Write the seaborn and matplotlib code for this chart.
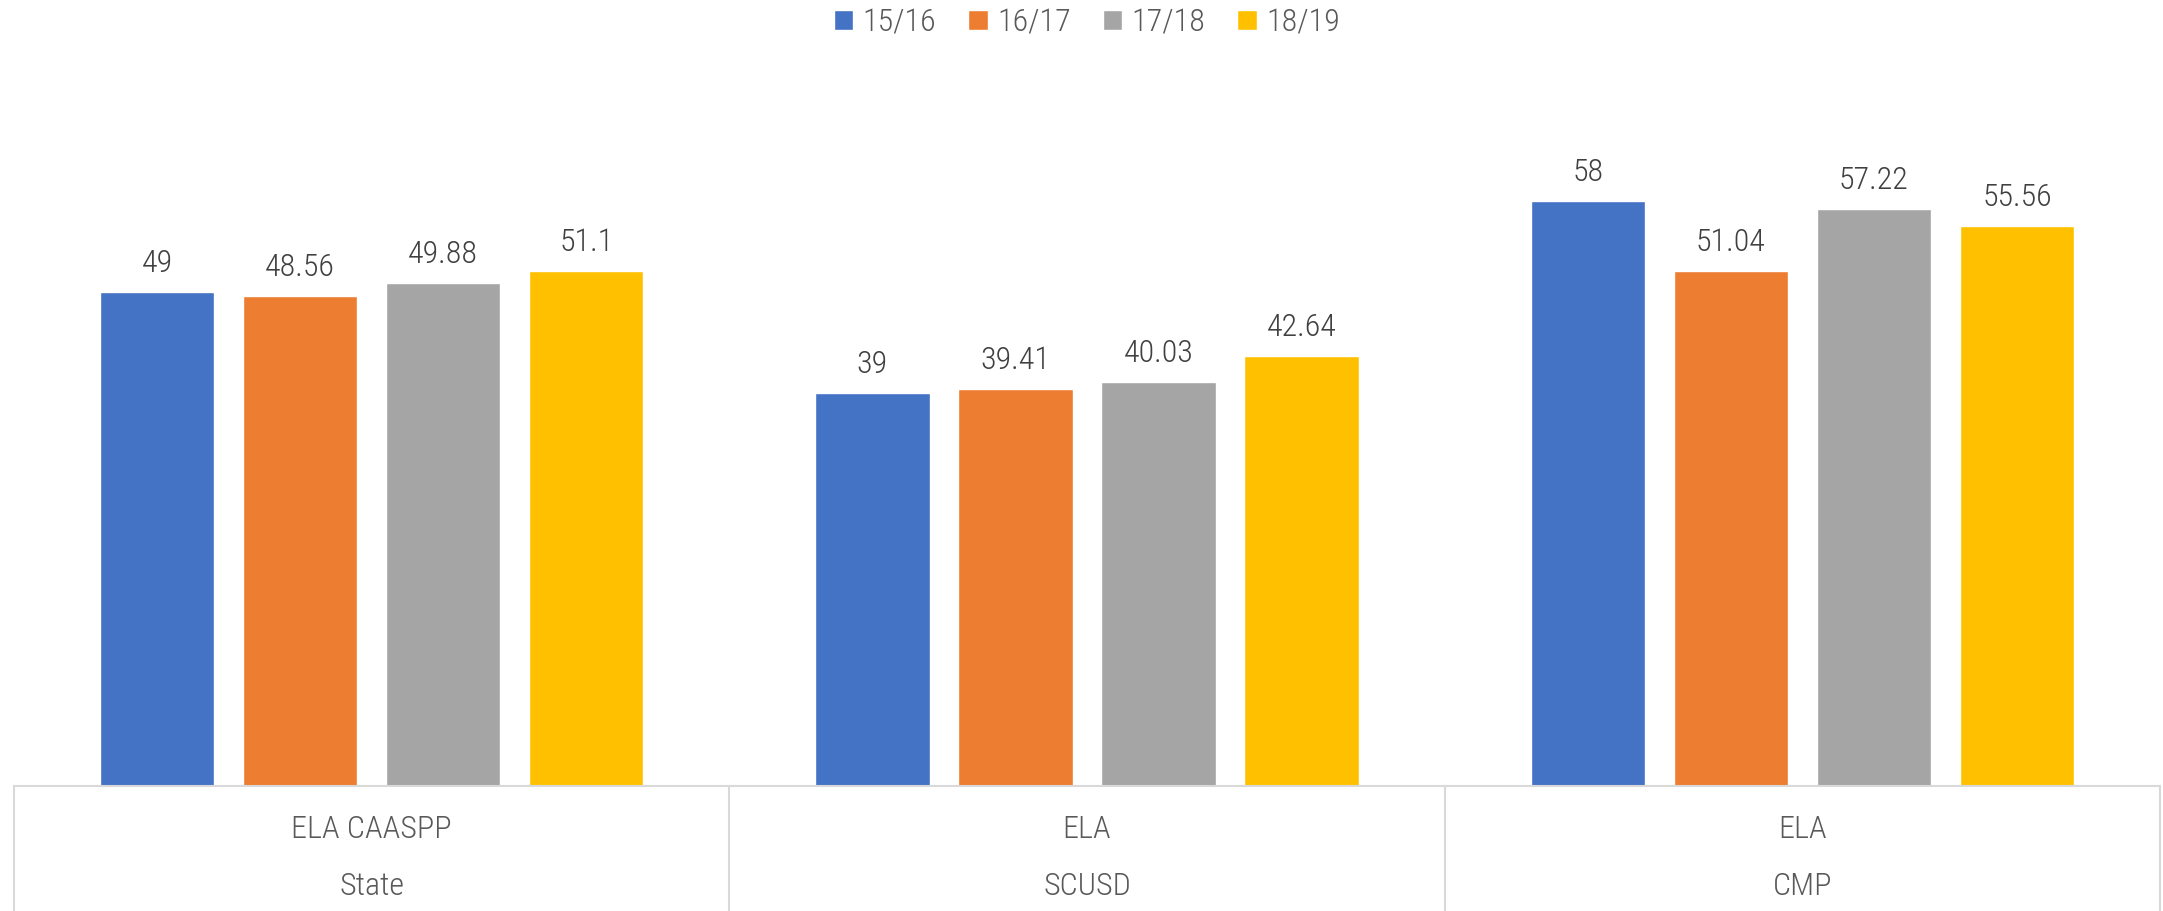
import pandas as pd
import seaborn as sns
import matplotlib.pyplot as plt
import matplotlib.transforms as mtransforms

# data
groups = ["ELA CAASPP\nState", "ELA\nSCUSD", "ELA\nCMP"]
years = ["15/16", "16/17", "17/18", "18/19"]
vals_1516 = [49, 39, 58]
vals_1617 = [48.56, 39.41, 51.04]
vals_1718 = [49.88, 40.03, 57.22]
vals_1819 = [51.1, 42.64, 55.56]
colors = ["#4472C4", "#ED7D31", "#A5A5A5", "#FFC000"]

rows = []
for yr, vals in zip(years, [vals_1516, vals_1617, vals_1718, vals_1819]):
    for g, v in zip(groups, vals):
        rows.append({"group": g, "year": yr, "value": v})
df = pd.DataFrame(rows)

sns.set_style("white")
plt.rcParams["font.family"] = ["Roboto Condensed", "DejaVu Sans"]
plt.rcParams["font.weight"] = "light"
fs = 23

fig = plt.figure(figsize=(21.63, 9.11), dpi=100)
ax = fig.add_axes([14 / 2163, 125 / 911, 2146 / 2163, 706 / 911])

sns.barplot(data=df, x="group", y="value", hue="year", palette=colors,
            width=0.8, gap=0.2, errorbar=None, saturation=1, ax=ax)

# value labels
for cont in ax.containers:
    ax.bar_label(cont, labels=["{:g}".format(b.get_height()) for b in cont],
                 padding=10, fontsize=fs, color="#404040")

ax.set_ylim(0, 70)
ax.set_xlim(-0.5, 2.5)
ax.set_yticks([])
ax.set_xticks([])
ax.set_xlabel("")
ax.set_ylabel("")
for s in ["top", "left", "right"]:
    ax.spines[s].set_visible(False)
ax.spines["bottom"].set_color("#d9d9d9")
ax.spines["bottom"].set_linewidth(1.5)

# category table under the axis
trans = mtransforms.blended_transform_factory(ax.transData, ax.transAxes)
for xv in [-0.5, 0.5, 1.5, 2.5]:
    ax.plot([xv, xv], [0, -0.18], transform=trans, color="#d9d9d9",
            lw=1.5, clip_on=False)
for i, g in enumerate(groups):
    top, bottom = g.split("\n")
    ax.text(i, -0.0623, top, transform=trans, ha="center", va="center",
            fontsize=fs, color="#595959")
    ax.text(i, -0.143, bottom, transform=trans, ha="center", va="center",
            fontsize=fs, color="#595959")

leg = ax.legend(loc="center", bbox_to_anchor=(0.5, (911 - 23 - 125) / 706),
                ncol=4, frameon=False, fontsize=fs, handlelength=0.6,
                handleheight=0.6, handletextpad=0.3, columnspacing=1.0)
for t in leg.get_texts():
    t.set_color("#595959")

fig.savefig("out.png", dpi=100)
